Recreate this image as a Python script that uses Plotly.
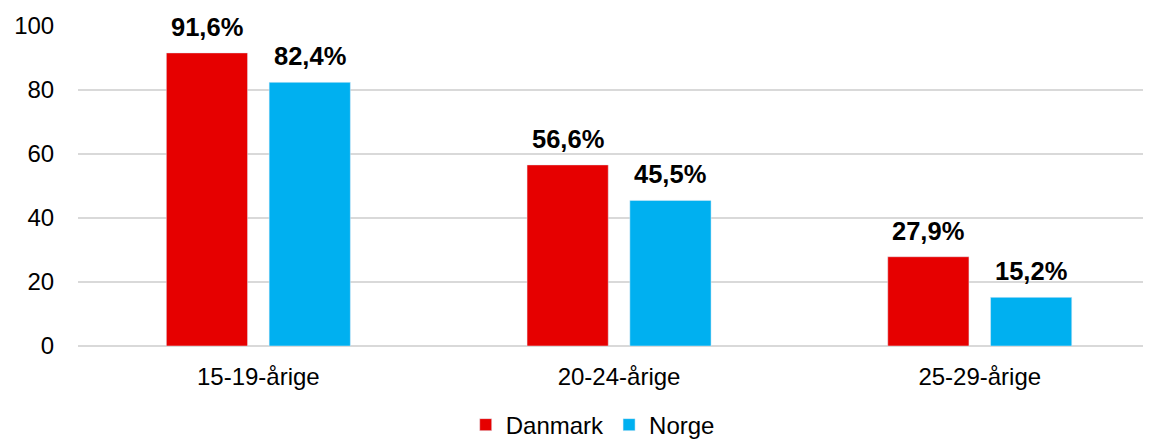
import plotly.graph_objects as go

categories = ["15-19-årige", "20-24-årige", "25-29-årige"]
danmark = [91.6, 56.6, 27.9]
norge = [82.4, 45.5, 15.2]
y_ticks = [0, 20, 40, 60, 80, 100]

RED = "#E60000"
BLUE = "#00B0F0"
FONT = "Arial, Liberation Sans, sans-serif"

# the page body adds 8px of margin on the top and left, so margins make up for it
W, H = 1151, 439
ML, MR, MT, MB = 70, 0, 18, 101
BARGAP = 0.43
CAT_PX = 360.7  # pixel width of one category
XRANGE = [-0.5, -0.5 + (W - ML - MR) / CAT_PX]

fig = go.Figure()
fig.add_trace(go.Bar(name="Danmark", x=categories, y=danmark, marker_color=RED))
fig.add_trace(go.Bar(name="Norge", x=categories, y=norge, marker_color=BLUE))

# value labels placed over each bar
half_slot = (1 - BARGAP) * CAT_PX / 4
annotations = []
for vals, sign in ((danmark, -1), (norge, 1)):
    for c, v in zip(categories, vals):
        annotations.append(dict(
            x=c, y=v, text=f"<b>{v:.1f}%</b>".replace(".", ","),
            showarrow=False, yanchor="bottom", xanchor="center",
            xshift=sign * half_slot, yshift=10,
            font=dict(size=25.5, color="black", family=FONT),
        ))

fig.update_layout(
    width=W, height=H,
    margin=dict(l=ML, r=MR, t=MT, b=MB, autoexpand=False),
    barmode="group", bargap=BARGAP, bargroupgap=0.21,
    plot_bgcolor="white", paper_bgcolor="white",
    font=dict(family=FONT, size=24, color="black"),
    annotations=annotations,
    showlegend=True,
    legend=dict(
        orientation="h", xref="container", x=0.508, xanchor="center",
        y=-0.247, yanchor="middle",
        font=dict(size=24), itemwidth=30, traceorder="normal",
    ),
)
fig.update_xaxes(
    range=XRANGE, showgrid=False, showline=False, zeroline=False,
    automargin=False,
    ticks="outside", ticklen=9, tickcolor="rgba(0,0,0,0)",
    tickfont=dict(size=24),
)
fig.update_yaxes(
    range=[0, 100], tickvals=y_ticks, showgrid=True, gridcolor="#D9D9D9",
    gridwidth=2, zeroline=True, zerolinecolor="#D9D9D9", zerolinewidth=2,
    automargin=False,
    ticks="outside", ticklen=18, tickcolor="rgba(0,0,0,0)",
    tickfont=dict(size=24),
)

fig.write_html("out.html")
